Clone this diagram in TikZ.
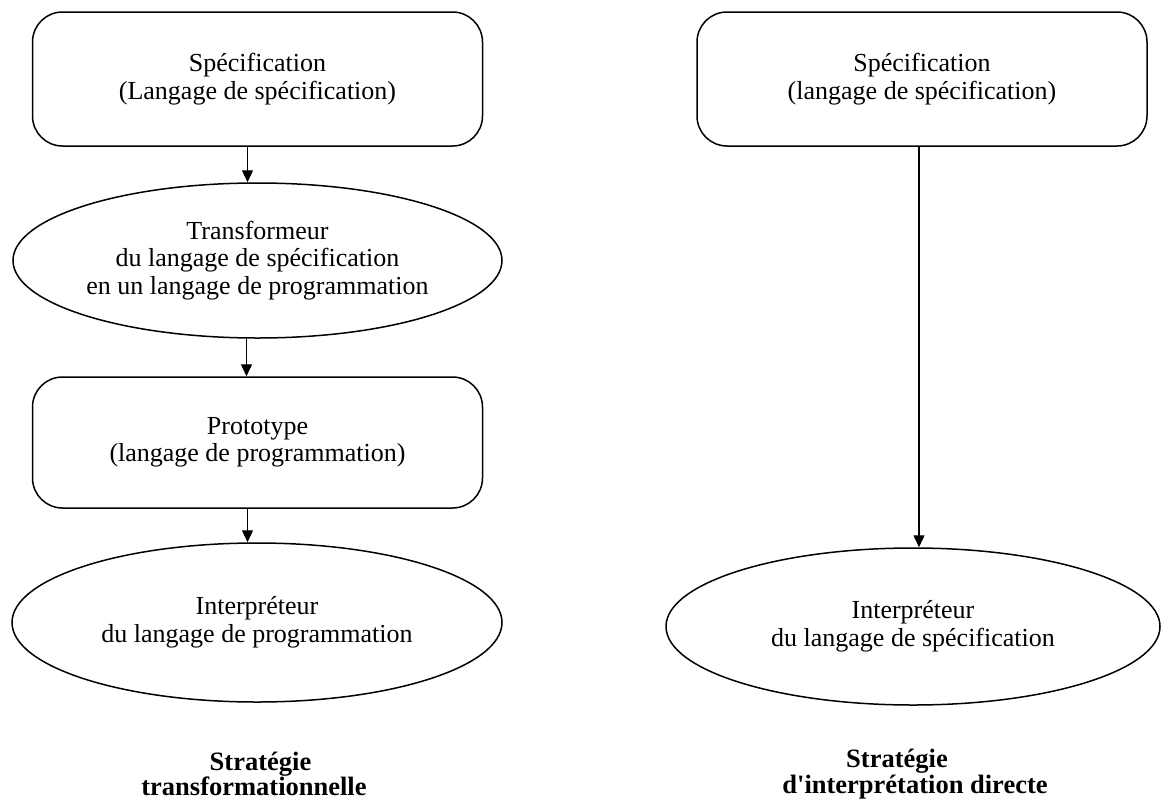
\documentclass[tikz,border=0pt]{standalone}
\usepackage{fontspec}
\setmainfont{Liberation Serif}[Ligatures=TeXOff]
\usetikzlibrary{shapes.geometric,arrows.meta}
\begin{document}
\begin{tikzpicture}[x=1pt,y=-1pt,
  every node/.style={font=\fontsize{26}{27.5}\selectfont, align=center},
  stage/.style={draw, line width=1.5pt, rounded corners=30pt, minimum width=450pt, inner sep=0pt},
  tool/.style={draw, ellipse, line width=1.5pt, inner sep=0pt},
  flow/.style={line width=1.4pt, -{Triangle[length=12pt,width=11pt]}},
  caption/.style={font=\fontsize{26.5}{23}\selectfont\bfseries}]
\useasboundingbox (0,0) rectangle (1169,803);

% transformational strategy
\node[stage, minimum height=134pt] (spec1) at (257.5,79) {Spécification\\(Langage de spécification)};
\node[tool, minimum width=489pt, minimum height=155pt] (trans) at (257.5,260.5) {Transformeur\\du langage de spécification\\en un langage de programmation};
\node[stage, minimum height=131pt] (proto) at (257.5,442.5) {Prototype\\(langage de programmation)};
\node[tool, minimum width=490pt, minimum height=159pt] (interp1) at (257,622.5) {Interpréteur\\du langage de programmation};
\node[caption] (cap1) at (254,774) {\hspace*{13pt}Stratégie\\transformationnelle};

\draw[flow] ([xshift=-10pt]spec1.south) -- ([xshift=-10pt]spec1.south |- trans.north);
\draw[flow] ([xshift=-11pt]trans.south) -- ([xshift=-11pt]trans.south |- proto.north);
\draw[flow] ([xshift=-10pt]proto.south) -- ([xshift=-10pt]proto.south |- interp1.north);

% direct interpretation strategy
\node[stage, minimum height=134pt] (spec2) at (922,79) {Spécification\\(langage de spécification)};
\node[tool, minimum width=494pt, minimum height=157pt] (interp2) at (913,626.5) {Interpréteur\\du langage de spécification};
\node[caption] (cap2) at (915,774) {Stratégie\hspace*{36pt}\\d'interprétation directe};

\draw[flow] ([xshift=-3pt]spec2.south) -- ([xshift=-3pt]spec2.south |- interp2.north);
\end{tikzpicture}
\end{document}
